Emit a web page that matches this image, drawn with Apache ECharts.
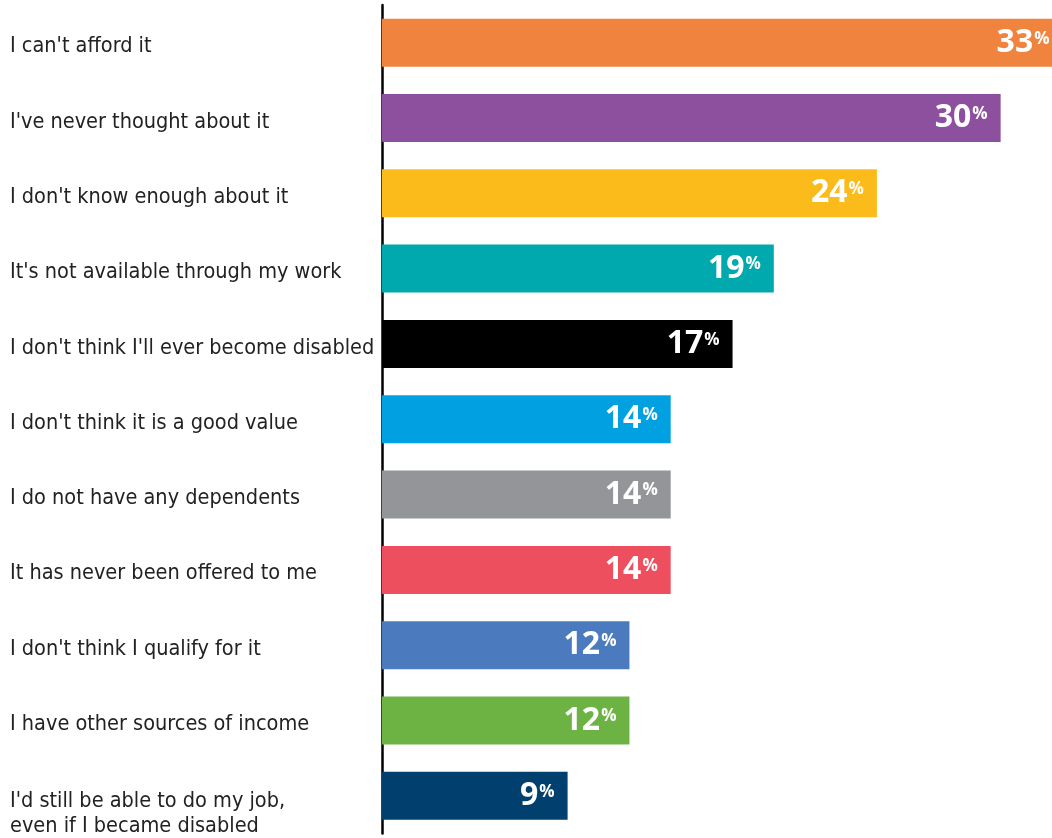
<!DOCTYPE html>
<html>
<head>
<meta charset="utf-8">
<script src="https://cdn.jsdelivr.net/npm/echarts@6/dist/echarts.min.js"></script>
<style>
  html, body { margin: 0; padding: 0; background: #fff; }
  #chart { width: 1052px; height: 838px; }
</style>
</head>
<body>
<div id="chart"></div>
<script>
const categories = [
  "I can't afford it",
  "I've never thought about it",
  "I don't know enough about it",
  "It's not available through my work",
  "I don't think I'll ever become disabled",
  "I don't think it is a good value",
  "I do not have any dependents",
  "It has never been offered to me",
  "I don't think I qualify for it",
  "I have other sources of income",
  "I'd still be able to do my job,\neven if I became disabled",
];
const values = [33, 30, 24, 19, 17, 14, 14, 14, 12, 12, 9];
const colors = [
  "#f0843f", "#8c509f", "#fbbb1a", "#00a9ae", "#000000", "#00a0e1",
  "#939598", "#ee4f5f", "#4b7bbe", "#6db344", "#003f6e",
];

const chart = echarts.init(document.getElementById("chart"));

const catText = {
  color: "#222",
  fontFamily: "'DejaVu Sans Condensed', 'Roboto', sans-serif",
  fontSize: 21.5,
  lineHeight: 25,
  align: "left",
};

chart.setOption({
  animation: false,
  grid: {
    left: 382,
    right: -10.5,
    top: 5,
    bottom: 4.5,
    containLabel: false,
    outerBoundsMode: "none",
  },
  xAxis: {
    type: "value",
    min: 0,
    max: 33,
    show: false,
  },
  yAxis: {
    type: "category",
    inverse: true,
    data: categories,
    axisLine: {
      lineStyle: { color: "#000", width: 2.5 },
    },
    axisTick: { show: false },
    axisLabel: {
      align: "left",
      margin: 372,
      ...catText,
      formatter: (value) => {
        const lines = value.split("\n");
        if (lines.length === 1) return `{a|${value}}`;
        return `{e| }\n` + lines.map((l) => `{c|${l}}`).join("\n");
      },
      rich: {
        a: { ...catText, padding: [8, 0, 0, 0] },
        c: { ...catText },
        e: { ...catText, lineHeight: 37 },
      },
    },
  },
  series: [
    {
      type: "bar",
      barWidth: 48,
      data: values.map((v, i) => ({ value: v, itemStyle: { color: colors[i] } })),
      label: {
        show: true,
        position: "insideRight",
        distance: 13,
        formatter: (p) => `{n|${p.value}}{p|%}`,
        rich: {
          n: {
            color: "#fff",
            fontFamily: "'Open Sans', sans-serif",
            fontWeight: "bold",
            fontSize: 32,
            verticalAlign: "middle",
          },
          p: {
            color: "#fff",
            fontFamily: "'Open Sans', sans-serif",
            fontWeight: "bold",
            fontSize: 17,
            verticalAlign: "middle",
            padding: [0, 0, 8, 1],
          },
        },
      },
    },
  ],
});

window.addEventListener("resize", () => chart.resize());
</script>
</body>
</html>
